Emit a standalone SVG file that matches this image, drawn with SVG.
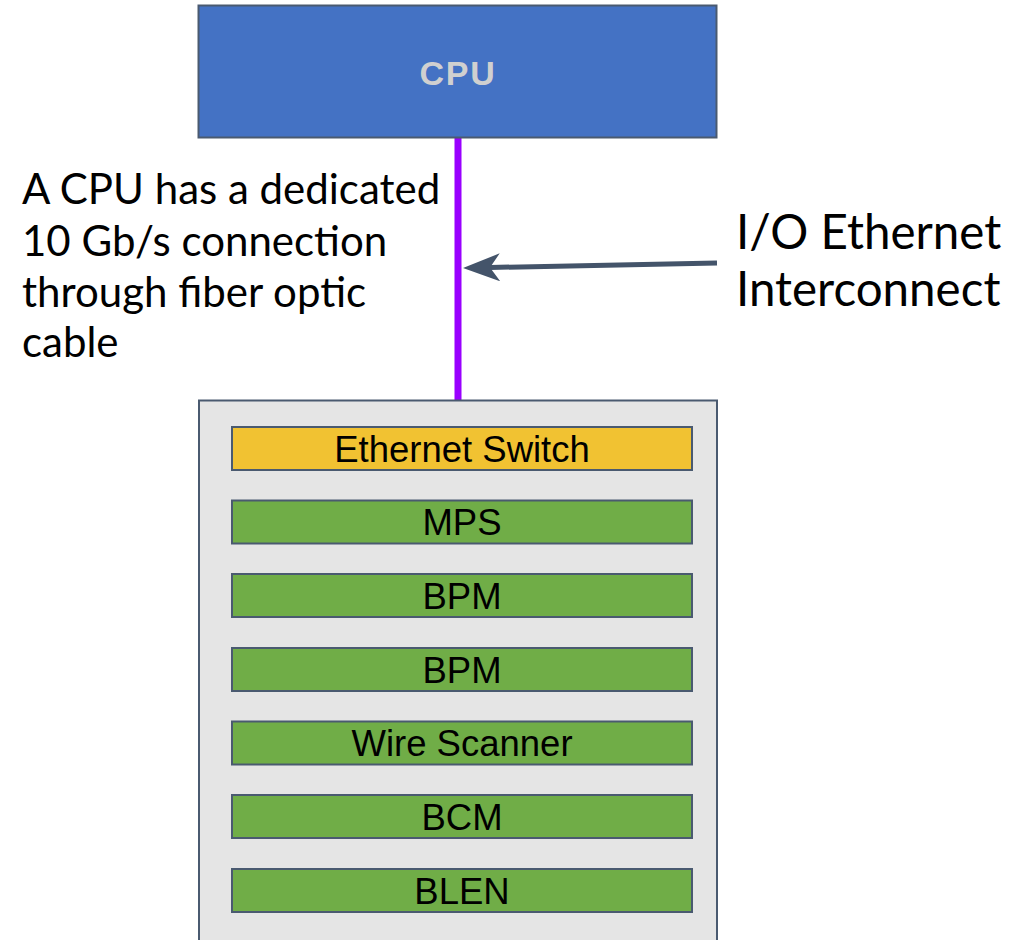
<svg xmlns="http://www.w3.org/2000/svg" width="1015" height="940" viewBox="0 0 1015 940">
  <style>
    .bar { stroke: #4a5a70; stroke-width: 2; }
    .green { fill: #70ad47; }
    .yellow { fill: #f1c232; }
    .barText { font-family: "Liberation Sans", Arial, sans-serif; font-size: 36.5px; fill: #000; text-anchor: middle; }
    .note { font-family: Lato, "Liberation Sans", sans-serif; fill: #000; }
  </style>
  <defs>
    <!-- notched arrowhead; refX sits on the notch so the shaft ends inside the head -->
    <marker id="arrowHead" markerWidth="37" markerHeight="28" refX="10" refY="14" orient="auto" markerUnits="userSpaceOnUse">
      <path d="M0,0 L37,14 L0,28 L10,14 Z" fill="#44546a"/>
    </marker>
  </defs>
  <rect width="1015" height="940" fill="#ffffff"/>

  <!-- connectors -->
  <g id="connectors">
    <line x1="458" y1="138" x2="458" y2="400" stroke="#9900ff" stroke-width="7"/>
    <line x1="717" y1="263" x2="490" y2="267.5" stroke="#44546a" stroke-width="5" marker-end="url(#arrowHead)"/>
  </g>

  <!-- CPU -->
  <g id="cpu">
    <rect x="198.5" y="5.5" width="518" height="132" fill="#4472c4" stroke="#4a5a70" stroke-width="2"/>
    <text x="458" y="84.5" font-family="'Liberation Sans', Arial, sans-serif" font-weight="bold" font-size="34" letter-spacing="1.8" fill="#d0d0d0" text-anchor="middle">CPU</text>
  </g>

  <!-- annotation labels -->
  <g id="link-note">
    <text class="note" font-size="42">
      <tspan x="22" y="204">A CPU has a dedicated</tspan>
      <tspan x="22" y="255.5">10 Gb/s connection</tspan>
      <tspan x="22" y="306.5">through fiber optic</tspan>
      <tspan x="22" y="357">cable</tspan>
    </text>
  </g>
  <g id="io-label">
    <text class="note" font-size="47.5">
      <tspan x="736" y="249">I/O Ethernet</tspan>
      <tspan x="736" y="306">Interconnect</tspan>
    </text>
  </g>

  <!-- crate -->
  <g id="crate">
    <rect x="199" y="400.5" width="518" height="545" fill="#e5e5e5" stroke="#4a5a70" stroke-width="2"/>
  </g>
  <g id="ethernet-switch">
    <rect class="bar yellow" x="232" y="427" width="460" height="43"/>
    <text class="barText" x="462" y="461.5">Ethernet Switch</text>
  </g>
  <g id="mps">
    <rect class="bar green" x="232" y="500.5" width="460" height="43"/>
    <text class="barText" x="462" y="535">MPS</text>
  </g>
  <g id="bpm-1">
    <rect class="bar green" x="232" y="574" width="460" height="43"/>
    <text class="barText" x="462" y="608.5">BPM</text>
  </g>
  <g id="bpm-2">
    <rect class="bar green" x="232" y="648" width="460" height="43"/>
    <text class="barText" x="462" y="682.5">BPM</text>
  </g>
  <g id="wire-scanner">
    <rect class="bar green" x="232" y="721.5" width="460" height="43"/>
    <text class="barText" x="462" y="756">Wire Scanner</text>
  </g>
  <g id="bcm">
    <rect class="bar green" x="232" y="795" width="460" height="43"/>
    <text class="barText" x="462" y="829.5">BCM</text>
  </g>
  <g id="blen">
    <rect class="bar green" x="232" y="869" width="460" height="43"/>
    <text class="barText" x="462" y="903.5">BLEN</text>
  </g>
</svg>
